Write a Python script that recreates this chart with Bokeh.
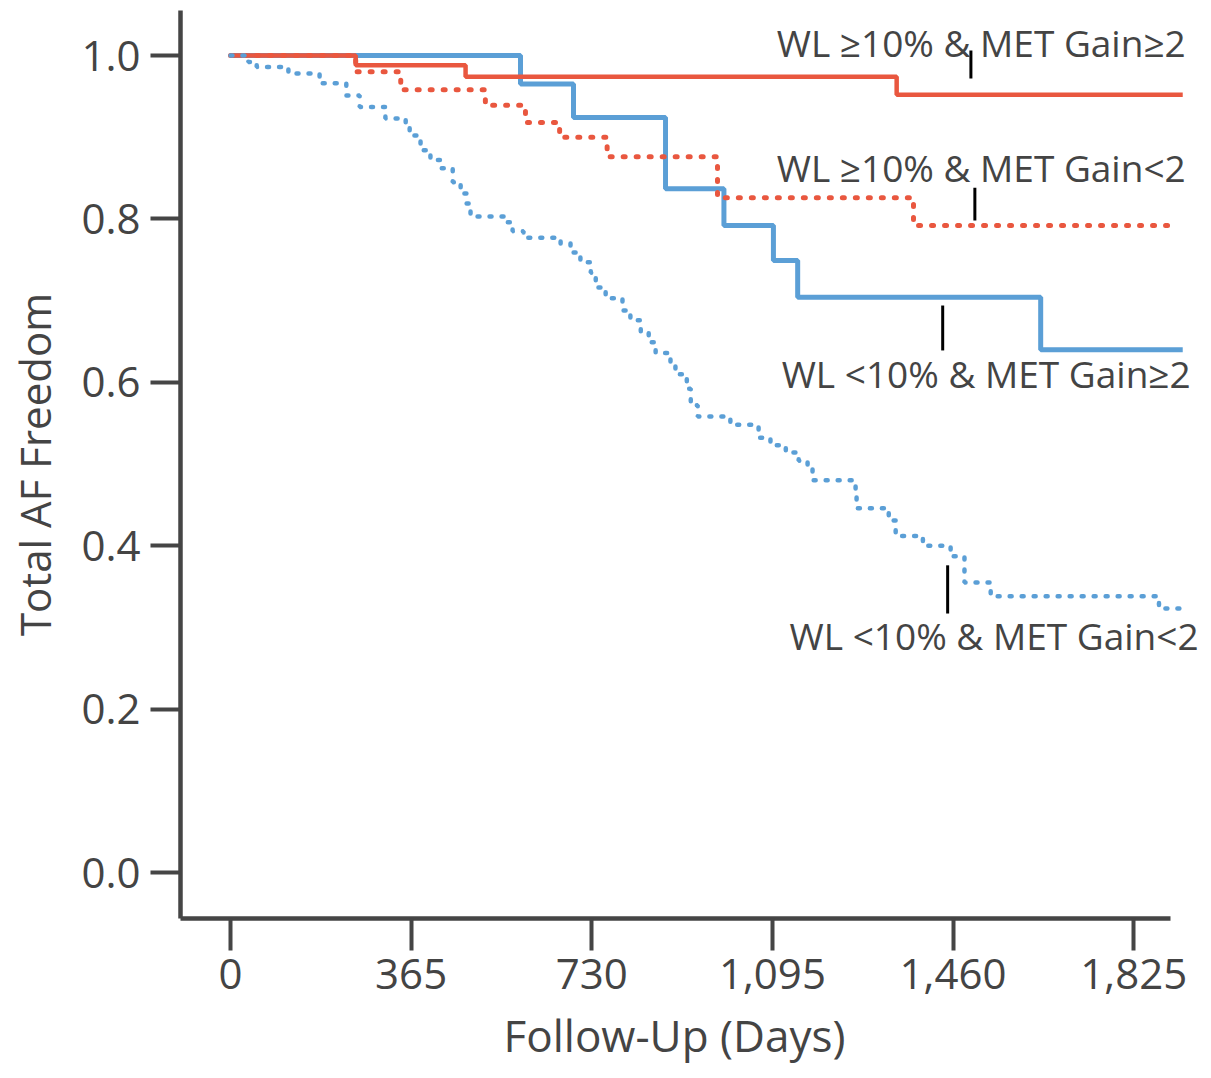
from bokeh.plotting import figure
from bokeh.models import FixedTicker, Range1d, Title
from bokeh.core.properties import value
from bokeh.embed import file_html
from bokeh.resources import INLINE

# ---- data (days, survival) ----
red_solid_t = [0, 253, 475, 1346, 1924]
red_solid_s = [1.0, 0.988, 0.974, 0.952, 0.952]

red_dot_t = [0, 253, 344, 515, 596, 665, 761, 984, 1380, 1900]
red_dot_s = [1.0, 0.980, 0.958, 0.939, 0.918, 0.900, 0.876, 0.826, 0.792, 0.792]

blue_solid_t = [0, 586, 693, 879, 997, 1097, 1146, 1637, 1924]
blue_solid_s = [1.0, 0.965, 0.924, 0.837, 0.792, 0.749, 0.704, 0.640, 0.640]

blue_dot_t = [0, 36, 53, 117, 180, 234, 261, 313, 354, 362, 384, 404, 424, 449, 465,
              477, 485, 556, 570, 592, 667, 687, 707, 728, 738, 758, 792, 808, 829,
              845, 859, 889, 899, 922, 930, 944, 1010, 1067, 1091, 1122, 1148, 1166,
              1176, 1263, 1265, 1330, 1344, 1399, 1455, 1483, 1536, 1876, 1930]
blue_dot_s = [1.0, 0.992, 0.986, 0.978, 0.966, 0.951, 0.937, 0.923, 0.912, 0.902,
              0.884, 0.872, 0.862, 0.845, 0.831, 0.819, 0.803, 0.796, 0.785, 0.777,
              0.770, 0.759, 0.747, 0.734, 0.716, 0.703, 0.688, 0.676, 0.662, 0.649,
              0.636, 0.624, 0.610, 0.592, 0.572, 0.558, 0.548, 0.532, 0.523, 0.514,
              0.504, 0.494, 0.480, 0.464, 0.446, 0.431, 0.412, 0.400, 0.387, 0.355,
              0.338, 0.323, 0.323]

series_labels = ["WL \u226510% & MET Gain\u22652", "WL \u226510% & MET Gain<2",
                 "WL <10% & MET Gain\u22652", "WL <10% & MET Gain<2"]

x_ticks = [0, 365, 730, 1095, 1460, 1825]
x_tick_labels = ["0", "365", "730", "1,095", "1,460", "1,825"]
y_ticks = [0.0, 0.2, 0.4, 0.6, 0.8, 1.0]
y_tick_labels = ["0.0", "0.2", "0.4", "0.6", "0.8", "1.0"]
x_title = "Follow-Up (Days)"
y_title = "Total AF Freedom"

# ---- annotation placement ----
label_x = [1930, 1930, 1940, 1956]
label_y = [1.016, 0.863, 0.611, 0.290]
lead_x = [1496, 1504, 1439, 1449]
lead_y0 = [0.972, 0.798, 0.639, 0.317]
lead_y1 = [1.006, 0.838, 0.694, 0.376]

RED = "#E9573F"
BLUE = "#5B9FD6"
AX = "#454545"
TXT = "#444444"
FONT = "Open Sans"

p = figure(width=1211, height=1078, output_backend="svg", toolbar_location=None,
           x_range=Range1d(-101, 1970), y_range=Range1d(-0.0563, 1.0551),
           min_border_left=180, min_border_right=6, min_border_top=10,
           min_border_bottom=160)
p.outline_line_color = None
p.xgrid.visible = False
p.ygrid.visible = False
p.background_fill_color = "white"
p.border_fill_color = "white"

p.step(blue_solid_t, blue_solid_s, mode="after", line_color=BLUE, line_width=5)
p.step(red_solid_t, red_solid_s, mode="after", line_color=RED, line_width=4.5)
p.step(red_dot_t, red_dot_s, mode="after", line_color=RED, line_width=5,
       line_dash="2 11", line_cap="round")
p.step(blue_dot_t, blue_dot_s, mode="after", line_color=BLUE, line_width=4.5,
       line_dash="2 10", line_cap="round")

p.segment(x0=lead_x, x1=lead_x, y0=lead_y0, y1=lead_y1, line_color="black", line_width=3)
p.text(x=label_x, y=label_y, text=series_labels, text_align="right",
       text_baseline="alphabetic", text_font=value(FONT), text_font_size="37px",
       text_color=TXT)

xa = p.xaxis[0]
xa.ticker = FixedTicker(ticks=x_ticks)
xa.major_label_overrides = {t: l for t, l in zip(x_ticks, x_tick_labels)}
xa.bounds = (-101, 1900)
xa.major_label_standoff = 8
xa.major_tick_out = 32
xa.major_tick_in = 0

ya = p.yaxis[0]
ya.ticker = FixedTicker(ticks=y_ticks)
ya.major_label_overrides = {t: l for t, l in zip(y_ticks, y_tick_labels)}
ya.axis_label = y_title
ya.axis_label_standoff = 15
ya.major_label_standoff = 10
ya.major_tick_out = 30
ya.major_tick_in = 0

for ax in (xa, ya):
    ax.minor_tick_line_color = None
    ax.axis_line_width = 4.5
    ax.axis_line_color = AX
    ax.major_tick_line_width = 4
    ax.major_tick_line_color = AX
    ax.major_label_text_font = FONT
    ax.major_label_text_font_size = "42px"
    ax.major_label_text_color = TXT
    ax.axis_label_text_font = FONT
    ax.axis_label_text_font_size = "42px"
    ax.axis_label_text_font_style = "normal"
    ax.axis_label_text_color = TXT

xtitle = Title(text=x_title, align="left", offset=323, standoff=23,
               vertical_align="bottom", text_font=FONT, text_font_size="44px",
               text_font_style="normal", text_color=TXT)
p.add_layout(xtitle, "below")

open("out.html", "w").write(file_html(p, INLINE))
